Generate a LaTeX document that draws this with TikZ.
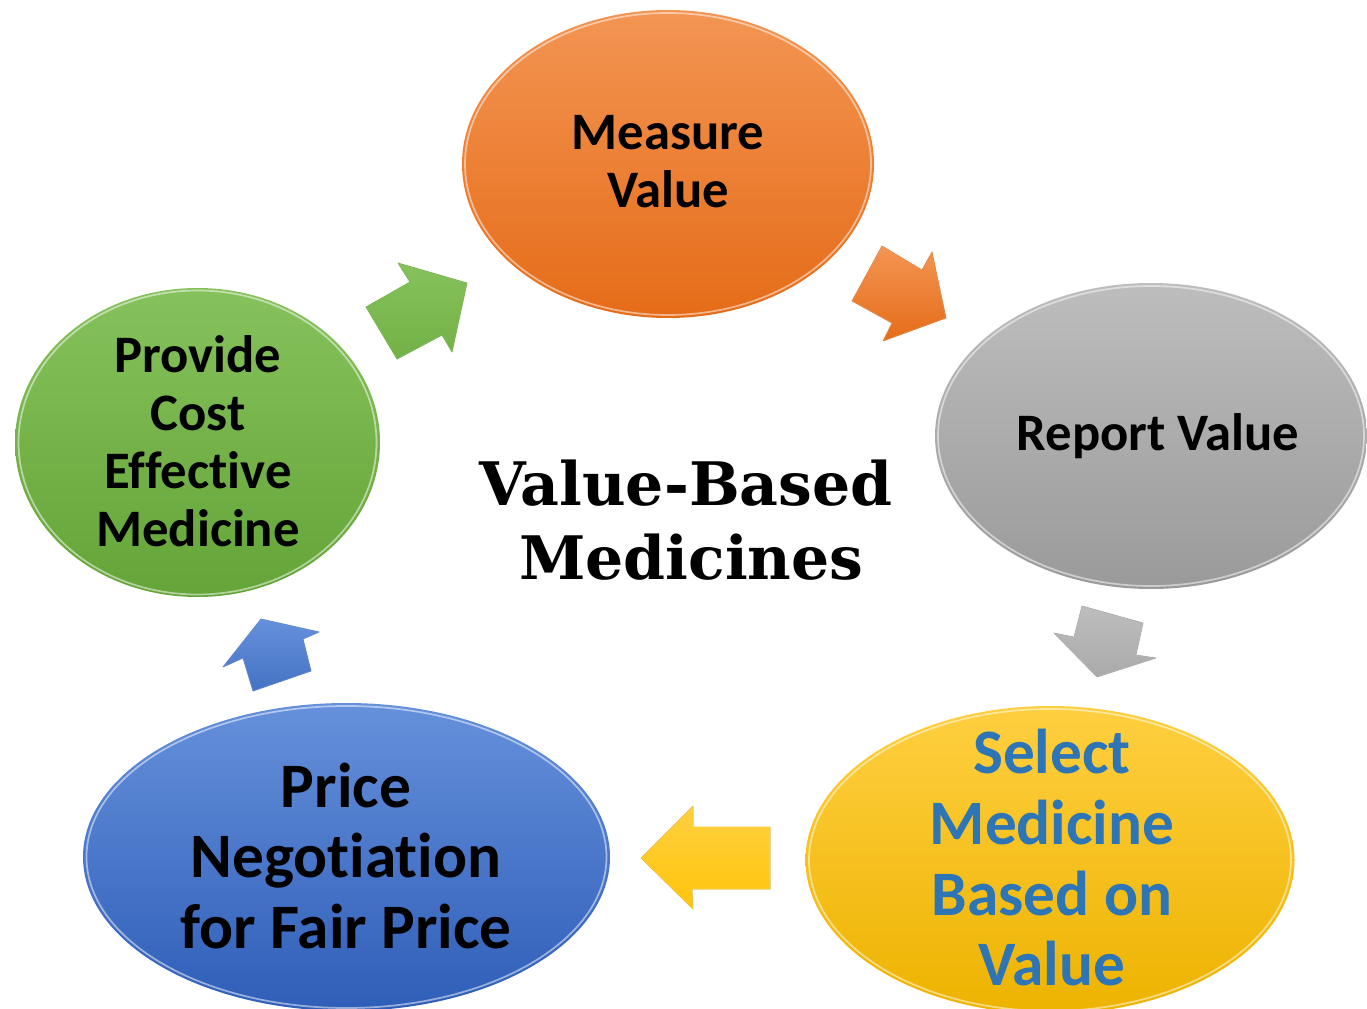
\documentclass[tikz,border=0pt]{standalone}
\usepackage{fontspec}
\newfontfamily\calib[Ligatures=NoCommon]{Carlito}
\newfontfamily\titlefont{DejaVu Serif}
\usetikzlibrary{shapes.geometric}
\definecolor{oTop}{HTML}{F39553}
\definecolor{oMid}{HTML}{F07D2C}
\definecolor{oBot}{HTML}{E56C18}
\definecolor{gTop}{HTML}{BDBDBD}
\definecolor{gMid}{HTML}{AAAAAA}
\definecolor{gBot}{HTML}{9A9A9A}
\definecolor{yTop}{HTML}{FFCF40}
\definecolor{yMid}{HTML}{FFC50A}
\definecolor{yBot}{HTML}{EDB300}
\definecolor{bTop}{HTML}{6590DB}
\definecolor{bMid}{HTML}{4472C4}
\definecolor{bBot}{HTML}{2F5EB8}
\definecolor{grTop}{HTML}{86C25C}
\definecolor{grMid}{HTML}{72B146}
\definecolor{grBot}{HTML}{64A438}
\definecolor{selblue}{HTML}{2E75B6}
\begin{document}
\begin{tikzpicture}[x=0.75pt,y=-0.75pt,
  bubble/.style={ellipse, inner sep=0pt, draw=none},
  rim/.style={draw=white, draw opacity=0.5, line width=1.3pt},
  lbl/.style={font=\calib\bfseries\fontsize{39.5}{43.5}\selectfont, align=center, text=black, inner sep=0pt},
  biglbl/.style={font=\calib\bfseries\fontsize{47.5}{53}\selectfont, align=center, inner sep=0pt},
  blockarrow/.style={line join=round, draw opacity=0.6, line width=0.8pt},
  ttl/.style={font=\titlefont\bfseries\fontsize{45}{56}\selectfont, align=center, inner sep=0pt}
]
\useasboundingbox (0,0) rectangle (1367,1009);
\clip (0,0) rectangle (1367,1009);
\fill[white] (0,0) rectangle (1367,1009);

% ellipses
\node[bubble, minimum width=309pt, minimum height=231pt,
  top color=oTop, middle color=oMid, bottom color=oBot] (measure) at (668,164) {};
\node[bubble, minimum width=324pt, minimum height=229.5pt,
  top color=gTop, middle color=gMid, bottom color=gBot] (report) at (1151,436) {};
\node[bubble, minimum width=366.75pt, minimum height=231pt,
  top color=yTop, middle color=yMid, bottom color=yBot] (select) at (1050,860) {};
\node[bubble, minimum width=395.25pt, minimum height=231pt,
  top color=bTop, middle color=bMid, bottom color=bBot] (price) at (346.5,857) {};
\node[bubble, minimum width=273.75pt, minimum height=231.75pt,
  top color=grTop, middle color=grMid, bottom color=grBot] (provide) at (197.5,442.5) {};

% rims
\draw[rim] (measure.center) ellipse [x radius=203, y radius=151];
\draw[rim] (report.center) ellipse [x radius=213, y radius=150];
\draw[rim] (select.center) ellipse [x radius=241, y radius=151];
\draw[rim] (price.center) ellipse [x radius=260, y radius=151];
\draw[rim] (provide.center) ellipse [x radius=179, y radius=152];

% labels
\node[lbl] (tMeasure) at (668,162) {Measure\\Value};
\node[lbl] (tReport) at (1158,436) {Report Value};
\node[biglbl, text=selblue] (tSelect) at (1052,858) {Select\\Medicine\\Based on\\Value};
\node[biglbl, text=black] (tPrice) at (346,856) {Price\\Negotiation\\for Fair Price};
\node[lbl] (tProvide) at (198,441) {Provide\\Cost\\Effective\\Medicine};

% title
\node[ttl, text=black] (title) at (686,520) {Value-Based\\\hspace*{8pt}Medicines};

% block arrows
\filldraw[blockarrow, draw=oTop, top color=oTop, bottom color=oBot]
  (852,301) -- (882,246) -- (922,270) -- (932,252) -- (946,318) -- (883,341) -- (892,323) -- cycle;
\filldraw[blockarrow, draw=gTop, top color=gTop, bottom color=gMid]
  (1082,606) -- (1143,623) -- (1136,655) -- (1156,658) -- (1097,677) -- (1054,633) -- (1074,637) -- cycle;
\filldraw[blockarrow, draw=yTop, top color=yTop, bottom color=yMid]
  (641,858) -- (693,806) -- (693,827) -- (770,827) -- (770,889) -- (692,889) -- (693,909) -- cycle;
\filldraw[blockarrow, draw=bTop, top color=bTop, bottom color=bMid]
  (261,619) -- (319,632) -- (303,639) -- (311,671) -- (253,691) -- (243,658) -- (223,667) -- cycle;
\filldraw[blockarrow, draw=grTop, top color=grTop, bottom color=grMid]
  (366,307) -- (410,282) -- (398,263) -- (467,283) -- (452,352) -- (442,335) -- (397,359) -- cycle;
\end{tikzpicture}
\end{document}
